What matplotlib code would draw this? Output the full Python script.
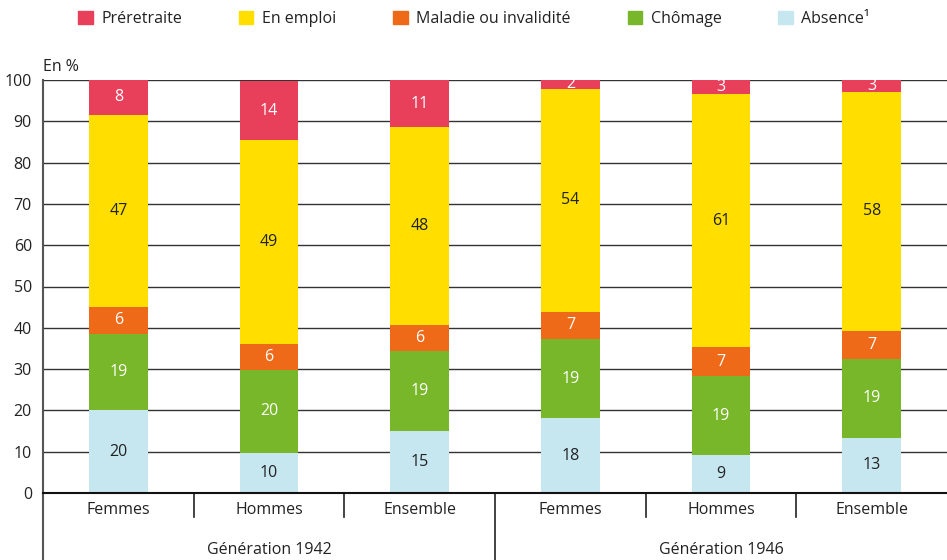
import matplotlib
matplotlib.use("Agg")
import matplotlib.pyplot as plt
import matplotlib.transforms as mtransforms
from matplotlib.patches import Patch
import numpy as np

plt.rcParams["font.family"] = ["Open Sans", "DejaVu Sans"]

# ── data ──────────────────────────────────────────────────────────────────────
categories = ["Femmes", "Hommes", "Ensemble", "Femmes", "Hommes", "Ensemble"]
groups = ["Génération 1942", "Génération 1946"]

absence     = [20.0,  9.8, 14.9, 18.1,  9.1, 13.4]
chomage     = [18.6, 19.9, 19.4, 19.2, 19.2, 19.0]
maladie     = [ 6.4,  6.3,  6.4,  6.6,  7.0,  6.8]
emploi      = [46.6, 49.4, 47.8, 54.0, 61.2, 58.0]
preretraite = [ 8.4, 14.4, 11.4,  2.1,  3.4,  2.8]

series = [
    ("Absence\u00b9", absence, "#C6E7F0", "#222222"),
    ("Chômage", chomage, "#78B72A", "white"),
    ("Maladie ou invalidité", maladie, "#EE6A19", "white"),
    ("En emploi", emploi, "#FFDE00", "#222222"),
    ("Préretraite", preretraite, "#E83F5B", "white"),
]
legend_order = ["Préretraite", "En emploi", "Maladie ou invalidité", "Chômage", "Absence\u00b9"]

# ── figure ────────────────────────────────────────────────────────────────────
fig = plt.figure(figsize=(9.47, 5.6), dpi=100)
ax = fig.add_axes([43 / 947, 67 / 560, 904 / 947, 413 / 560])

x = np.arange(len(categories))
bottom = np.zeros(len(categories))
handles = {}
for name, vals, color, tcolor in series:
    vals = np.array(vals)
    ax.bar(x, vals, 0.39, bottom=bottom, color=color, zorder=3)
    handles[name] = Patch(color=color)
    for xi, b, v in zip(x, bottom, vals):
        ax.text(xi, b + v / 2, f"{int(round(v))}", ha="center", va="center",
                fontsize=11.5, color=tcolor, zorder=4)
    bottom += vals

ax.set_xlim(-0.5, 5.5)
ax.set_ylim(0, 100)
ax.set_yticks(range(0, 101, 10))
ax.tick_params(axis="y", length=0, labelsize=11.5, pad=8, colors="#222222")
ax.set_xticks([])
ax.yaxis.grid(True, color="#333333", linewidth=1.0, zorder=1)

for s in ["top", "right"]:
    ax.spines[s].set_visible(False)
ax.spines["bottom"].set_color("#111111")
ax.spines["bottom"].set_linewidth(1.5)
ax.spines["bottom"].set_zorder(5)
ax.spines["left"].set_visible(False)

# left spine extended down through the category rows
trans = mtransforms.blended_transform_factory(ax.transData, ax.transAxes)
below = -67 / 413
short = -24 / 413
ax.plot([-0.5, -0.5], [1, below], transform=trans, color="#555555",
        linewidth=1.5, clip_on=False, zorder=5)
for sep in [0.5, 1.5, 3.5, 4.5]:
    ax.plot([sep, sep], [0, short], transform=trans, color="#222222",
            linewidth=1.2, clip_on=False)
ax.plot([2.5, 2.5], [0, below], transform=trans, color="#222222",
        linewidth=1.2, clip_on=False)

for xi, c in zip(x, categories):
    ax.text(xi, -17 / 413, c, transform=trans, ha="center", va="center",
            fontsize=11.5, color="#222222")
for gi, g in enumerate(groups):
    ax.text(gi * 3 + 1, -57 / 413, g, transform=trans, ha="center",
            va="center", fontsize=11.5, color="#222222")

ax.text(0, 1.012, "En %", transform=ax.transAxes, ha="left", va="bottom",
        fontsize=11.5, color="#222222")

fig.legend([handles[n] for n in legend_order], legend_order,
           loc="center left", bbox_to_anchor=(64 / 947, 1 - 19 / 560),
           ncol=5, frameon=False, fontsize=11.5, handlelength=0.9,
           handleheight=0.9, handletextpad=0.55, columnspacing=3.55,
           labelcolor="#222222")

fig.savefig("out.png", dpi=100)
plt.close(fig)
